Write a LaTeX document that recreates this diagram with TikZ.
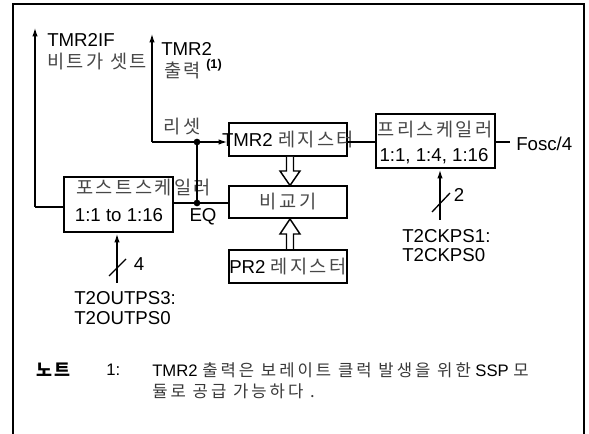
\documentclass[tikz,border=0pt]{standalone}
\usepackage{fontspec}
\setmainfont{Liberation Sans}
\newfontfamily\krfont[LetterSpace=13]{Noto Sans CJK KR}
\newfontfamily\krnote[LetterSpace=18]{Noto Sans CJK KR}
\usetikzlibrary{arrows.meta}
\newcommand\krt[1]{{\krfont\color{black!72}#1}}
\newcommand\krn[1]{{\krnote\color{black!78}#1}}
\tikzset{
  ln/.style={line width=1.5pt},
  arr/.style={line width=1.5pt,-{Latex[length=7pt,width=4pt]}},
  bx/.style={draw,line width=1.5pt,inner sep=0pt},
  lbl/.style={inner sep=0pt,font=\fontsize{14}{16}\selectfont},
  note/.style={inner sep=0pt,font=\fontsize{12.5}{15}\selectfont},
  hollow/.style={draw,line width=1.1pt,fill=white,line join=miter},
  dot/.style={circle,fill=black,inner sep=0pt,minimum size=5pt}
}
\begin{document}
\begin{tikzpicture}[x=0.75pt,y=-0.75pt]
\useasboundingbox (0,0) rectangle (589,434);
% frame
\draw[line width=1.9pt] (13,434) -- (13,4) -- (584,4) -- (584,434);
% boxes
\node[bx,minimum width=81.75pt,minimum height=41.25pt] (post) at (118.5,204.5) {};
\node[bx,minimum width=88.5pt,minimum height=24.75pt] (tmr) at (288,140) {};
\node[bx,minimum width=88.5pt,minimum height=24pt] (cmp) at (288,202) {};
\node[bx,minimum width=88.5pt,minimum height=24.75pt] (pr2) at (288,266.5) {};
\node[bx,minimum width=89.25pt,minimum height=40.5pt] (pre) at (435.5,141) {};
% box texts
\node[lbl] (ttmr) at (288,140) {TMR2 \krt{레지스터}};
\node[lbl] (tcmp) at (288,202) {\krt{비교기}};
\node[lbl] (tpr2) at (288,267) {PR2 \krt{레지스터}};
\node[lbl] (tpre1) at (435,130) {\krt{프리스케일러}};
\node[lbl] (tpre2) at (434,156) {1:1, 1:4, 1:16};
\node[lbl,anchor=west] (tpost1) at (76,188) {\krt{포스트스케일러}};
\node[lbl] (tpost2) at (119,215) {1:1 to 1:16};
% coordinates
\coordinate (j1) at (197,142);
\coordinate (j2) at (197,203);
\coordinate (rstc) at (152,142);
\coordinate (rtop) at (152,33);
\coordinate (ifb) at (35,207);
\coordinate (iftop) at (35,27);
\coordinate (fosc) at (510,142);
\coordinate (ckin) at (440,220);
\coordinate (outin) at (117,283);
% connectors
\draw[arr] (rstc) -- (rtop);
\draw[arr] (rstc) -- (tmr.west |- rstc);
\draw[ln] (j1) -- (j2);
\draw[ln] (post.east |- j2) -- (cmp.west |- j2);
\draw[ln] (post.west |- ifb) -- (ifb);
\draw[arr] (ifb) -- (iftop);
\draw[ln] (tmr.east |- j1) -- (pre.west |- j1);
\draw[ln] (pre.east |- fosc) -- (fosc);
\draw[arr] (ckin) -- (ckin |- pre.south);
\draw[arr] (outin) -- (outin |- post.south);
\node[dot] (d1) at (j1) {};
\node[dot] (d2) at (j2) {};
% bus slashes
\draw[line width=1pt] (432,212) -- (450,193);
\draw[line width=1pt] (109,276) -- (126,259);
\node[lbl] (n2) at (459,195) {2};
\node[lbl] (n4) at (139,264) {4};
% hollow arrows
\draw[hollow] (286.5,157) -- (286.5,171) -- (280,171) -- (290,185.5) -- (300,171) -- (293.5,171) -- (293.5,157);
\draw[hollow] (286.5,249) -- (286.5,234) -- (280,234) -- (290,219) -- (300,234) -- (293.5,234) -- (293.5,249);
% labels
\node[lbl,anchor=west] (lif1) at (47,40) {TMR2IF};
\node[lbl,anchor=west] (lif2) at (47,62) {\krt{비트가 셋트}};
\node[lbl,anchor=west] (lo1) at (161,49) {TMR2};
\node[lbl,anchor=west] (lo2) at (164,70) {\krt{출력}};
\node[inner sep=0pt,anchor=west,font=\bfseries\fontsize{9.5}{11}\selectfont] (lo3) at (206,65) {(1)};
\node[lbl] (lrst) at (182,127) {\krt{리셋}};
\node[lbl] (leq) at (203,217) {EQ};
\node[lbl,anchor=west] (lfosc) at (516,144) {Fosc/4};
\node[lbl,anchor=west] (lck1) at (402,236) {T2CKPS1:};
\node[lbl,anchor=west] (lck2) at (402,255) {T2CKPS0};
\node[lbl,anchor=west] (lop1) at (74,298) {T2OUTPS3:};
\node[lbl,anchor=west] (lop2) at (74,318) {T2OUTPS0};
% note
\node[note,anchor=west,font=\krfont\bfseries\fontsize{13}{15}\selectfont] (nt) at (36,370) {노트};
\node[note,anchor=west] (n1) at (106,370) {1:};
\node[note,anchor=west] (nl1) at (152,370) {TMR2 \krn{출력은 보레이트 클럭 발생을 위한} SSP \krn{모}};
\node[note,anchor=west] (nl2) at (152,391) {\krn{듈로 공급 가능하다 .}};
\end{tikzpicture}
\end{document}
